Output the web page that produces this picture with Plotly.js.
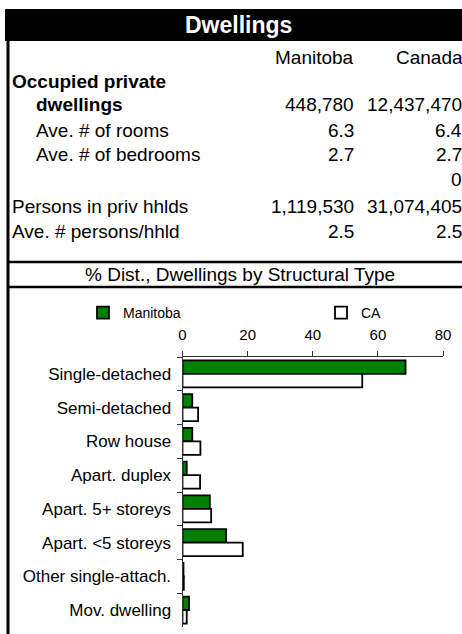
<!DOCTYPE html>
<html>
<head>
<meta charset="utf-8">
<script src="https://cdn.plot.ly/plotly-3.0.1.min.js"></script>
<style>
  html, body { margin: 0; padding: 0; background: #fff; }
  #chart { width: 462px; height: 634px; }
</style>
</head>
<body>
<div id="chart"></div>
<script>
// ---- Data ----
const categories = ["Single-detached", "Semi-detached", "Row house", "Apart. duplex",
  "Apart. 5+ storeys", "Apart. <5 storeys", "Other single-attach.", "Mov. dwelling"];
const manitobaPct = [68.5, 3.0, 3.0, 1.3, 8.4, 13.4, 0.3, 2.0];
const canadaPct = [55.2, 4.8, 5.5, 5.4, 8.8, 18.5, 0.4, 1.3];
const seriesNames = ["Manitoba", "CA"];

const tableTitle = "Dwellings";
const columnHeads = ["Manitoba", "Canada"];
const rowLabels = ["Occupied private", "dwellings", "Ave. # of rooms", "Ave. # of bedrooms", "",
  "Persons in priv hhlds", "Ave. # persons/hhld"];
const manitobaVals = ["", "448,780", "6.3", "2.7", "", "1,119,530", "2.5"];
const canadaVals = ["", "12,437,470", "6.4", "2.7", "0", "31,074,405", "2.5"];
const chartTitle = "% Dist., Dwellings by Structural Type";

// ---- Layout helpers ----
const W = 462, H = 634;
const px = x => x / W;
const py = y => 1 - y / H;
const FONT = "Liberation Sans, Arial, sans-serif";
const TS = 19;

const rowY = [82, 105, 130, 154, 179, 207, 232];
const rowX = [10, 34, 34, 34, 10, 10, 10];
const rowBold = [true, true, false, false, false, false, false];

const annotations = [];
function ann(text, x, y, xanchor, size, opts) {
  annotations.push(Object.assign({
    text: text, xref: "paper", yref: "paper", x: px(x), y: py(y),
    xanchor: xanchor, yanchor: "middle", showarrow: false,
    font: { family: FONT, size: size, color: "#000" }
  }, opts || {}));
}
ann("<b>" + tableTitle + "</b>", 238, 25, "center", 23, { font: { family: FONT, size: 23, color: "#fff" } });
ann(columnHeads[0], 356, 57, "right", TS);
ann(columnHeads[1], 465, 57, "right", TS);
rowLabels.forEach((lab, i) => {
  if (lab) ann(rowBold[i] ? "<b>" + lab + "</b>" : lab, rowX[i], rowY[i], "left", TS);
  if (manitobaVals[i]) ann(manitobaVals[i], 356, rowY[i], "right", TS);
  if (canadaVals[i]) ann(canadaVals[i], 464, rowY[i], "right", TS);
});
ann(chartTitle, 240, 274, "center", TS);

const shapes = [
  { type: "rect", xref: "paper", yref: "paper", x0: px(5), x1: 1.02, y0: py(41), y1: py(9),
    fillcolor: "#000", line: { width: 0 }, layer: "below" },
  { type: "line", xref: "paper", yref: "paper", x0: px(8), x1: px(8), y0: py(40), y1: 0,
    line: { color: "#000", width: 3 } },
  { type: "line", xref: "paper", yref: "paper", x0: px(8), x1: 1.02, y0: py(262), y1: py(262),
    line: { color: "#000", width: 2.5 } },
  { type: "line", xref: "paper", yref: "paper", x0: px(8), x1: 1.02, y0: py(287), y1: py(287),
    line: { color: "#000", width: 2.5 } }
];

const traces = [
  { type: "bar", orientation: "h", name: seriesNames[0], y: categories, x: manitobaPct,
    legend: "legend",
    marker: { color: "#008000", line: { color: "#000", width: 1.8 } }, hoverinfo: "skip" },
  { type: "bar", orientation: "h", name: seriesNames[1], y: categories, x: canadaPct,
    legend: "legend2",
    marker: { color: "#ffffff", line: { color: "#000", width: 1.8 } }, hoverinfo: "skip" }
];

const legendBase = {
  orientation: "h", yanchor: "middle", xanchor: "left",
  font: { family: FONT, size: 14, color: "#000" },
  bgcolor: "rgba(0,0,0,0)", borderwidth: 0
};

const layout = {
  width: W, height: H,
  margin: { l: 0, r: 0, t: 0, b: 0 },
  paper_bgcolor: "#fff", plot_bgcolor: "#fff",
  font: { family: FONT, color: "#000" },
  barmode: "group", bargap: 0.2, bargroupgap: 0,
  showlegend: true,
  legend: Object.assign({}, legendBase, { x: px(83), y: py(313) }),
  legend2: Object.assign({}, legendBase, { x: px(321), y: py(313) }),
  xaxis: {
    domain: [px(182.5), px(443)], range: [0, 80], side: "top", anchor: "y",
    dtick: 20, tick0: 0, ticks: "outside", ticklen: 5, tickcolor: "#333", tickwidth: 1,
    showline: true, linecolor: "#333", linewidth: 1, showgrid: false, zeroline: false,
    ticklabelstandoff: 5,
    tickfont: { family: FONT, size: 15, color: "#000" }, fixedrange: true
  },
  yaxis: {
    domain: [py(627), py(357)], type: "category", autorange: "reversed", anchor: "x",
    ticks: "outside", tickson: "boundaries", ticklen: 5, tickcolor: "#333", tickwidth: 1,
    showline: true, linecolor: "#333", linewidth: 1, showgrid: false, zeroline: false,
    ticklabelstandoff: 7,
    tickfont: { family: FONT, size: 17, color: "#000" }, fixedrange: true
  },
  shapes: shapes,
  annotations: annotations
};

Plotly.newPlot("chart", traces, layout, { displayModeBar: false, staticPlot: true });
</script>
</body>
</html>
